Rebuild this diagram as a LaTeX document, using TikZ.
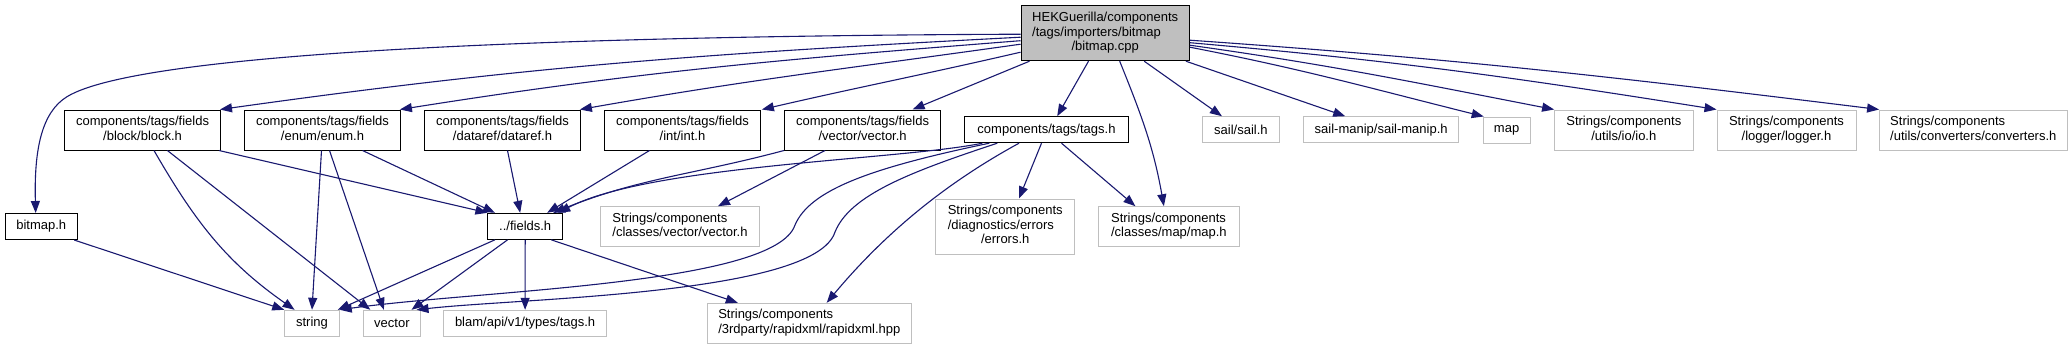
\documentclass[tikz,border=0pt]{standalone}
\usepackage{fontspec}
\setmainfont{Liberation Sans}
\usetikzlibrary{arrows.meta}
\definecolor{edgecol}{HTML}{191970}
\definecolor{gborder}{HTML}{BFBFBF}
\definecolor{mainfill}{HTML}{BFBFBF}
\newcommand\twol[2]{\begin{tabular}{@{}l@{}}#1\\\multicolumn{1}{@{}c@{}}{#2}\end{tabular}}
\newcommand\threel[3]{\begin{tabular}{@{}l@{}}#1\\#2\\\multicolumn{1}{@{}c@{}}{#3}\end{tabular}}
\begin{document}
\begin{tikzpicture}[x=1pt,y=1pt,
  box/.style={draw=black, line width=1pt, fill=white, rectangle, inner sep=0pt,
    font=\fontsize{13}{14.5}\selectfont, text=black},
  ubox/.style={box, draw=gborder},
  mainbox/.style={box, fill=mainfill},
  dep/.style={draw=edgecol, line width=1.1pt, -{Triangle[length=12pt,width=9pt]}}]
\useasboundingbox (0,0) rectangle (2072,-349);
\fill[white] (0,0) rectangle (2072,-349);

% nodes
\node[mainbox, minimum width=168.4pt, minimum height=55pt] (main) at (1105.2,-33.2)
  {\threel{HEKGuerilla/components}{/tags/importers/bitmap}{/bitmap.cpp}};
\node[box, minimum width=155.8pt, minimum height=40pt] (block) at (142.6,-130) {\twol{components/tags/fields}{/block/block.h}};
\node[box, minimum width=155.8pt, minimum height=40pt] (enum) at (322.5,-130) {\twol{components/tags/fields}{/enum/enum.h}};
\node[box, minimum width=155.8pt, minimum height=40pt] (dataref) at (502.5,-130) {\twol{components/tags/fields}{/dataref/dataref.h}};
\node[box, minimum width=155.8pt, minimum height=40pt] (int) at (682.5,-130) {\twol{components/tags/fields}{/int/int.h}};
\node[box, minimum width=156.2pt, minimum height=40pt] (vecf) at (862.6,-130) {\twol{components/tags/fields}{/vector/vector.h}};
\node[box, minimum width=163.4pt, minimum height=26pt] (tags) at (1046.5,-129.7) {components/tags/tags.h};
\node[ubox, minimum width=77.2pt, minimum height=26pt] (sail) at (1240.9,-129.7) {sail/sail.h};
\node[ubox, minimum width=154.9pt, minimum height=26pt] (sailmanip) at (1381.2,-129.7) {sail-manip/sail-manip.h};
\node[ubox, minimum width=46.8pt, minimum height=26pt] (map) at (1506.6,-130) {map};
\node[ubox, minimum width=138.4pt, minimum height=40pt] (io) at (1623.8,-130) {\twol{Strings/components}{/utils/io/io.h}};
\node[ubox, minimum width=139pt, minimum height=40pt] (logger) at (1786.5,-130) {\twol{Strings/components}{/logger/logger.h}};
\node[ubox, minimum width=187.4pt, minimum height=40pt] (conv) at (1973.3,-130) {\twol{Strings/components}{/utils/converters/converters.h}};
\node[box, minimum width=71.8pt, minimum height=26pt] (bitmaph) at (41.3,-226.5) {bitmap.h};
\node[box, minimum width=74.5pt, minimum height=26pt] (fields) at (525.2,-226.3) {../fields.h};
\node[ubox, minimum width=158.6pt, minimum height=40pt] (strvec) at (680,-226.7) {\twol{Strings/components}{/classes/vector/vector.h}};
\node[ubox, minimum width=138.8pt, minimum height=55pt] (errors) at (1005.2,-226.5) {\threel{Strings/components}{/diagnostics/errors}{/errors.h}};
\node[ubox, minimum width=140.2pt, minimum height=40pt] (mapcl) at (1168.9,-226.7) {\twol{Strings/components}{/classes/map/map.h}};
\node[ubox, minimum width=54.5pt, minimum height=26pt] (string) at (312,-323.3) {string};
\node[ubox, minimum width=56.2pt, minimum height=26pt] (vector) at (391.9,-323.3) {vector};
\node[ubox, minimum width=162.7pt, minimum height=26pt] (blam) at (525.1,-323.3) {blam/api/v1/types/tags.h};
\node[ubox, minimum width=204pt, minimum height=40pt] (rapidxml) at (809.3,-323.3) {\twol{Strings/components}{/3rdparty/rapidxml/rapidxml.hpp}};

% edges from main
\draw[dep] ([yshift=-1pt]main.west) .. controls (560,-36) and (140,-52) .. (67,-96.7)
  .. controls (41.5,-112.3) and (34,-150) .. ([xshift=-5.6pt]bitmaph.north);
\draw[dep] ([yshift=-4pt]main.west) to[out=183,in=8] ([xshift=-1pt]block.north east);
\draw[dep] ([yshift=-7.5pt]main.west) to[out=184.5,in=9] ([xshift=-1pt]enum.north east);
\draw[dep] ([yshift=-11pt]main.west) to[out=188,in=10] ([xshift=-1pt]dataref.north east);
\draw[dep] ([yshift=-19pt]main.west) to[out=193,in=13] ([xshift=1pt]int.north east);
\draw[dep] ([xshift=9pt]main.south west) -- ([xshift=50pt]vecf.north);
\draw[dep] ([xshift=-16.7pt]main.south) -- ([xshift=10.7pt]tags.north);
\draw[dep] ([xshift=14.5pt]main.south) to[out=-68,in=100] ([xshift=-5pt]mapcl.north);
\draw[dep] ([xshift=39pt]main.south) -- ([xshift=-19pt]sail.north);
\draw[dep] ([xshift=-4pt]main.south east) -- ([xshift=-36pt]sailmanip.north);
\draw[dep] ([yshift=-14pt]main.east) to[out=-11,in=166] ([xshift=1pt]map.north west);
\draw[dep] ([yshift=-12pt]main.east) to[out=-8,in=169] (io.north west);
\draw[dep] ([yshift=-9.5pt]main.east) to[out=-5,in=171] (logger.north west);
\draw[dep] ([yshift=-7pt]main.east) to[out=-4,in=173] (conv.north west);

% edges from field headers
\draw[dep] ([xshift=-2pt]block.south east) -- (fields.north west);
\draw[dep] ([xshift=11.4pt]block.south) to[out=-60,in=145] ([xshift=-17.4pt]string.north);
\draw[dep] ([xshift=24.8pt]block.south) -- ([xshift=7pt]vector.north west);
\draw[dep] ([xshift=-1pt]enum.south) -- (string.north);
\draw[dep] ([xshift=7pt]enum.south) -- ([xshift=-8pt]vector.north);
\draw[dep] ([xshift=40pt]enum.south) -- ([xshift=7.5pt]fields.north west);
\draw[dep] ([xshift=5pt]dataref.south) -- ([xshift=-5pt]fields.north);
\draw[dep] ([xshift=-33pt]int.south) -- ([xshift=22pt]fields.north);
\draw[dep] (vecf.south west) to[out=195,in=22] ([xshift=28pt]fields.north);
\draw[dep] ([xshift=-37.6pt]vecf.south) -- ([xshift=38pt]strvec.north);

% edges from tags.h
\draw[dep] ([xshift=18pt]tags.south west) .. controls (900,-160) and (650,-165) .. ([xshift=33pt]fields.north);
\draw[dep] ([xshift=25pt]tags.south west) .. controls (870,-168) and (810,-190) .. (795,-225)
  .. controls (775,-285) and (480,-290) .. (string.north east);
\draw[dep] ([xshift=33pt]tags.south west) .. controls (910,-172) and (850,-195) .. (835,-232)
  .. controls (815,-295) and (520,-298) .. ([xshift=-4pt]vector.north east);
\draw[dep] ([xshift=-27.5pt]tags.south) .. controls (970,-170) and (900,-215) .. ([xshift=17.4pt]rapidxml.north);
\draw[dep] ([xshift=-5pt]tags.south) -- ([xshift=13.8pt]errors.north);
\draw[dep] ([xshift=15pt]tags.south) -- ([xshift=-33.5pt]mapcl.north);

% edges from fields.h
\draw[dep] ([xshift=7.5pt]fields.south west) -- ([xshift=-2pt]string.north east);
\draw[dep] ([xshift=-17.6pt]fields.south) -- ([xshift=-9pt]vector.north east);
\draw[dep] (fields.south) -- (blam.north);
\draw[dep] ([xshift=26pt]fields.south) -- ([xshift=31pt]rapidxml.north west);

% bitmap.h
\draw[dep] ([xshift=-3.5pt]bitmaph.south east) -- (string.north west);
\end{tikzpicture}
\end{document}
